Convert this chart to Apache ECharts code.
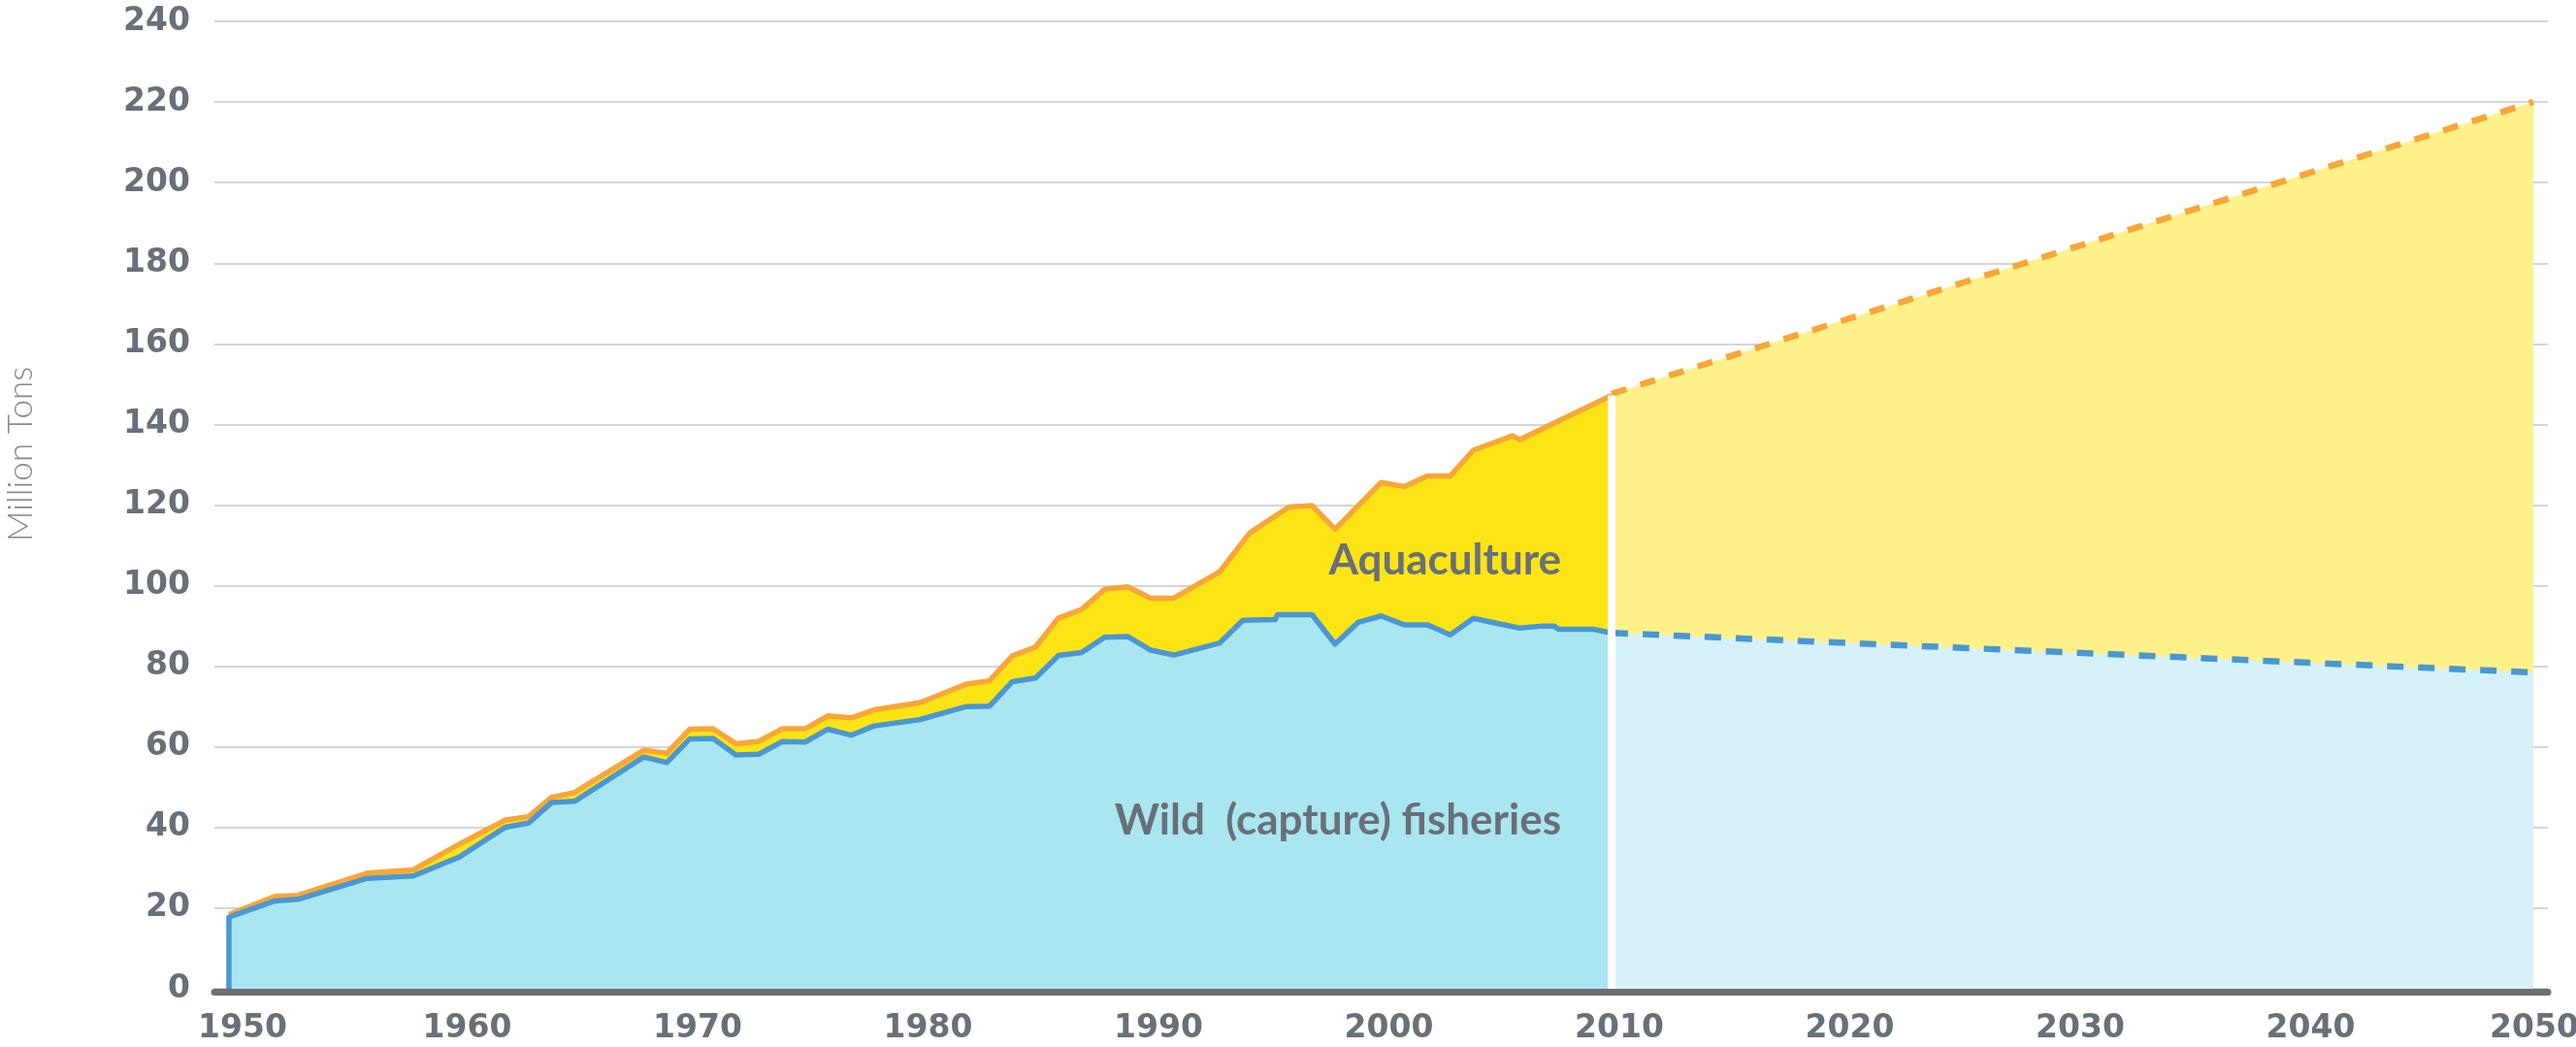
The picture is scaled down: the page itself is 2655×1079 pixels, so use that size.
<!DOCTYPE html>
<html>
<head>
<meta charset="utf-8">
<script src="https://cdn.jsdelivr.net/npm/echarts@6/dist/echarts.min.js"></script>
<style>
  html, body { margin: 0; padding: 0; background: #ffffff; }
  #chart { width: 2655px; height: 1079px; }
</style>
</head>
<body>
<div id="chart"></div>
<script>
// ---- Data ----
const xTickYears = [1950, 1960, 1970, 1980, 1990, 2000, 2010, 2020, 2030, 2040, 2050];

// Wild (capture) fisheries, historical (million tons)
const wildYears  = [1950, 1950, 1952, 1953, 1956, 1958, 1960, 1962, 1963, 1964, 1965, 1968, 1969, 1970, 1971,
                    1972, 1973, 1974, 1975, 1976, 1977, 1978, 1980, 1982, 1983, 1984, 1985, 1986, 1987, 1988,
                    1989, 1990, 1991, 1993, 1994, 1995.4, 1995.5, 1997, 1998, 1999, 2000, 2001, 2002, 2003,
                    2004, 2006, 2007, 2007.5, 2007.7, 2009.2, 2010];
const wildValues = [0, 17.8, 21.8, 22.2, 27.4, 28.0, 32.7, 40.1, 41.1, 46.2, 46.5, 57.5, 56.1, 62.0, 62.1,
                    58.0, 58.2, 61.3, 61.2, 64.4, 62.9, 65.2, 66.8, 70.0, 70.1, 76.2, 77.1, 82.7, 83.4, 87.2,
                    87.4, 84.0, 82.8, 85.8, 91.4, 91.6, 92.8, 92.8, 85.5, 90.9, 92.5, 90.3, 90.3, 87.8,
                    91.9, 89.5, 90.0, 90.0, 89.2, 89.2, 88.3];

// Total production (wild + aquaculture), historical (million tons)
const totalYears  = [1950, 1952, 1953, 1956, 1958, 1960, 1962, 1963, 1964, 1965, 1968, 1969, 1970, 1971,
                     1972, 1973, 1974, 1975, 1976, 1977, 1978, 1980, 1982, 1983, 1984, 1985, 1986, 1987,
                     1988, 1989, 1990, 1991, 1993, 1994.3, 1996, 1997, 1998, 2000, 2001, 2002, 2003, 2004,
                     2005.7, 2006, 2010];
const totalValues = [18.4, 22.9, 23.2, 28.7, 29.5, 35.9, 41.9, 42.7, 47.5, 48.7, 59.2, 58.4, 64.4, 64.5,
                     60.8, 61.4, 64.5, 64.5, 67.7, 67.2, 69.2, 71.0, 75.6, 76.4, 82.6, 84.8, 92.0, 94.1,
                     99.1, 99.7, 96.9, 96.9, 103.5, 113.1, 119.5, 119.9, 114.0, 125.6, 124.6, 127.2, 127.2, 133.6,
                     137.2, 136.2, 147.2];

// Projections 2010 -> 2050
const projYears       = [2010, 2050];
const projWildValues  = [88.3, 78.5];
const projTotalValues = [147.6, 220];

const seriesNames = ['Aquaculture', 'Wild  (capture) fisheries'];
const yAxisTitle = 'Million Tons';

// ---- Build pairs ----
const zip = (xs, ys) => xs.map((x, i) => [x, ys[i]]);
const wildHist  = zip(wildYears, wildValues);
const totalHist = zip(totalYears, totalValues);
const wildProj  = zip(projYears, projWildValues);
const totalProj = zip(projYears, projTotalValues);
const splitYear = projYears[0];
const separator = [[splitYear, 0], [splitYear, totalValues[totalValues.length - 1]]];

const GRAY = '#687079';
const tickFont = { color: GRAY, fontFamily: 'DejaVu Sans', fontWeight: 'bold', fontSize: 33 };
const firstTick = xTickYears[0];
const lastTick = xTickYears[xTickYears.length - 1];

const chart = echarts.init(document.getElementById('chart'), null, { renderer: 'canvas' });

const option = {
  backgroundColor: '#ffffff',
  animation: false,
  grid: { left: 221, right: 29, top: 22, bottom: 60, containLabel: false, outerBoundsMode: 'none' },
  xAxis: {
    type: 'value',
    min: 1949.37,
    max: 2050.63,
    offset: 3,
    axisLine: { show: true, onZero: false, lineStyle: { color: '#6d6e71', width: 7 } },
    axisTick: { show: false },
    splitLine: { show: false },
    axisLabel: Object.assign({
      customValues: xTickYears,
      margin: 22,
      formatter: v => v === firstTick ? '{first|' + v + '}' : (v === lastTick ? '{last|' + v + '}' : '{mid|' + v + '}'),
      rich: {
        first: Object.assign({ padding: [0, 0, 0, 28] }, tickFont),
        mid:   Object.assign({ padding: [0, 0, 0, 16] }, tickFont),
        last:  Object.assign({ padding: [0, 0, 0, 2] }, tickFont)
      }
    }, tickFont)
  },
  yAxis: {
    type: 'value',
    min: 0,
    max: 240,
    interval: 20,
    axisLine: { show: false },
    axisTick: { show: false },
    splitLine: { show: true, lineStyle: { color: '#d3d6da', width: 2 } },
    axisLabel: Object.assign({ margin: 25, padding: [0, 0, 4, 0] }, tickFont)
  },
  graphic: [
    {
      type: 'text', x: 22, y: 468, rotation: Math.PI / 2, silent: true,
      style: { text: yAxisTitle, fill: '#858b92', font: '300 35px Lato', textAlign: 'center', textVerticalAlign: 'middle' }
    },
    {
      type: 'text', x: 1609, y: 578, silent: true, z: 100,
      style: { text: seriesNames[0], fill: GRAY, font: 'bold 44px Lato', textAlign: 'right', textVerticalAlign: 'middle' }
    },
    {
      type: 'text', x: 1609, y: 846, silent: true, z: 100,
      style: { text: seriesNames[1], fill: GRAY, font: 'bold 44px Lato', textAlign: 'right', textVerticalAlign: 'middle' }
    }
  ],
  series: [
    {
      name: 'Total (historical)', type: 'line', data: totalHist, showSymbol: false, symbol: 'none',
      lineStyle: { color: '#f7a637', width: 5.5, join: 'round' },
      areaStyle: { color: '#fde414', opacity: 1 }, z: 2
    },
    {
      name: 'Total (projection)', type: 'line', data: totalProj, showSymbol: false, symbol: 'none',
      lineStyle: { color: '#f7a637', width: 6.5, type: [16, 15] },
      areaStyle: { color: '#fff18a', opacity: 1 }, z: 2
    },
    {
      name: 'Wild (historical)', type: 'line', data: wildHist, showSymbol: false, symbol: 'none',
      lineStyle: { color: '#4a97d4', width: 5.5, join: 'round' },
      areaStyle: { color: '#aae6f0', opacity: 1 }, z: 3
    },
    {
      name: 'Wild (projection)', type: 'line', data: wildProj, showSymbol: false, symbol: 'none',
      lineStyle: { color: '#4a97d4', width: 6.5, type: [17, 15] },
      areaStyle: { color: '#d6f2f8', opacity: 1 }, z: 3
    },
    {
      name: 'separator', type: 'line', data: separator, showSymbol: false, symbol: 'none', silent: true,
      lineStyle: { color: '#ffffff', width: 8, cap: 'butt' }, z: 5
    }
  ]
};
chart.setOption(option);
</script>
</body>
</html>
